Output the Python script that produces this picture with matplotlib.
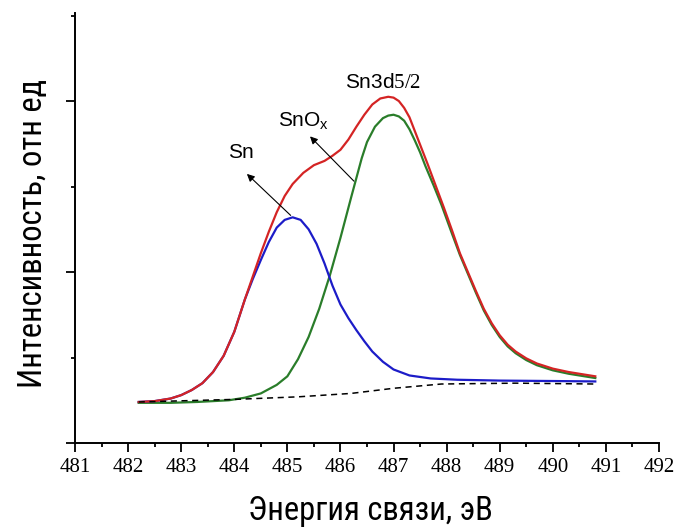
import matplotlib
matplotlib.use('Agg')
import matplotlib.pyplot as plt
from matplotlib import font_manager
from matplotlib.ticker import MultipleLocator

# Energy (eV) / intensity (arb. units)
x_total = [482.2, 482.5, 482.8, 483.0, 483.2, 483.4, 483.6, 483.8, 484.0, 484.2,
           484.35, 484.5, 484.65, 484.8, 484.95, 485.1, 485.3, 485.5, 485.7, 485.85,
           486.0, 486.15, 486.3, 486.45, 486.6, 486.75, 486.9, 487.0, 487.1, 487.2,
           487.3, 487.4, 487.5, 487.65, 487.8, 487.95, 488.1, 488.25, 488.4, 488.55,
           488.7, 488.85, 489.0, 489.15, 489.3, 489.5, 489.7, 490.0, 490.3, 490.5,
           490.8]
y_total = [0.48, 0.49, 0.52, 0.56, 0.62, 0.70, 0.83, 1.02, 1.30, 1.68,
           1.95, 2.22, 2.47, 2.70, 2.89, 3.03, 3.16, 3.25, 3.30, 3.36,
           3.43, 3.55, 3.70, 3.84, 3.96, 4.03, 4.05, 4.04, 4.00, 3.92,
           3.81, 3.65, 3.49, 3.25, 3.00, 2.75, 2.49, 2.22, 2.00, 1.78,
           1.57, 1.40, 1.26, 1.15, 1.07, 0.99, 0.93, 0.87, 0.83, 0.81,
           0.78]

x_snox = [482.2, 482.8, 483.3, 483.9, 484.2, 484.5, 484.8, 485.0, 485.2, 485.4,
          485.6, 485.8, 486.0, 486.2, 486.4, 486.5, 486.65, 486.8, 486.9, 487.0,
          487.1, 487.2, 487.3, 487.4, 487.5, 487.6, 487.75, 487.9, 488.0, 488.1,
          488.25, 488.4, 488.55, 488.7, 488.85, 489.0, 489.15, 489.3, 489.5, 489.7,
          490.0, 490.3, 490.5, 490.8]
y_snox = [0.47, 0.47, 0.48, 0.50, 0.53, 0.58, 0.68, 0.78, 0.98, 1.24,
          1.57, 1.96, 2.40, 2.87, 3.33, 3.52, 3.70, 3.80, 3.83, 3.84,
          3.82, 3.77, 3.67, 3.54, 3.40, 3.24, 3.02, 2.79, 2.62, 2.45,
          2.20, 1.98, 1.76, 1.55, 1.38, 1.24, 1.13, 1.05, 0.97, 0.91,
          0.85, 0.81, 0.79, 0.76]

x_sn = [482.2, 482.5, 482.8, 483.0, 483.2, 483.4, 483.6, 483.8, 484.0, 484.2,
        484.35, 484.5, 484.65, 484.8, 484.95, 485.1, 485.25, 485.4, 485.55, 485.7,
        485.85, 486.0, 486.15, 486.3, 486.45, 486.6, 486.8, 487.0, 487.3, 487.7,
        488.2, 489.0, 490.0, 490.8]
y_sn = [0.48, 0.49, 0.52, 0.56, 0.62, 0.70, 0.83, 1.02, 1.30, 1.68,
        1.92, 2.14, 2.35, 2.52, 2.61, 2.64, 2.61, 2.50, 2.33, 2.10,
        1.84, 1.62, 1.46, 1.32, 1.19, 1.07, 0.95, 0.86, 0.79, 0.755,
        0.74, 0.73, 0.725, 0.72]

x_bg = [482.2, 484.0, 485.2, 486.2, 487.0, 487.9, 489.3, 490.8]
y_bg = [0.48, 0.51, 0.54, 0.58, 0.64, 0.69, 0.70, 0.69]

plt.rcParams['mathtext.fontset'] = 'custom'
plt.rcParams['mathtext.rm'] = 'Liberation Serif'

names = {f.name for f in font_manager.fontManager.ttflist}
if 'Roboto Condensed' in names:
    label_font, label_size = 'Roboto Condensed', 23.5
else:
    label_font, label_size = 'Liberation Sans', 20

fig = plt.figure(figsize=(6.75, 5.29), dpi=100)
ax = fig.add_axes([75 / 675, 1 - 443 / 529, 584 / 675, 430 / 529])

ax.plot(x_snox, y_snox, color='#2a7d2a', lw=1.6)
ax.plot(x_sn, y_sn, color='#1c1cc8', lw=1.6)
ax.plot(x_total, y_total, color='#d42424', lw=1.6)
ax.plot(x_bg, y_bg, color='black', lw=1.1, ls=(0, (4, 3)))

ax.set_xlim(481, 492)
ax.set_ylim(0, 5.03)
ax.xaxis.set_major_locator(MultipleLocator(1))
ax.xaxis.set_minor_locator(MultipleLocator(0.5))
ax.yaxis.set_major_locator(MultipleLocator(2))
ax.yaxis.set_minor_locator(MultipleLocator(1))
ax.tick_params(axis='both', which='major', direction='out', length=6.5, width=1.3)
ax.tick_params(axis='both', which='minor', direction='out', length=3, width=1.3)
ax.tick_params(axis='y', which='both', labelleft=False)
ax.tick_params(axis='x', which='major', pad=4)
for lab in ax.get_xticklabels():
    lab.set_fontfamily('Liberation Serif')
    lab.set_fontsize(15)
for s in ['top', 'right']:
    ax.spines[s].set_visible(False)
for s in ['left', 'bottom']:
    ax.spines[s].set_linewidth(1.4)

arrow = dict(arrowstyle='-|>', color='black', lw=0.8, mutation_scale=11)
ax.annotate('', xy=(484.2, 3.17), xytext=(485.1, 2.64), arrowprops=arrow)
ax.annotate('', xy=(485.39, 3.61), xytext=(486.29, 3.04), arrowprops=arrow)

ax.text(484.13, 3.40, 'Sn', fontsize=15, ha='center', va='center',
        family='Liberation Sans')
ax.text(484.82, 3.70, r'SnO$_\mathregular{x}$', fontsize=15, ha='left', va='baseline',
        family='Liberation Sans')
ax.text(486.08, 4.15, r'Sn3d$\mathrm{5/2}$', fontsize=15, ha='left', va='baseline',
        family='Liberation Sans')

fig.text(370 / 675, 1 - 520 / 529, 'Энергия связи, эВ', fontsize=label_size,
         ha='center', va='baseline', family=label_font)
fig.text(33 / 675, 1 - 234 / 529, 'Интенсивность, отн ед', fontsize=label_size,
         ha='center', va='center', rotation=90, family=label_font)

fig.savefig('out.png', dpi=100)
